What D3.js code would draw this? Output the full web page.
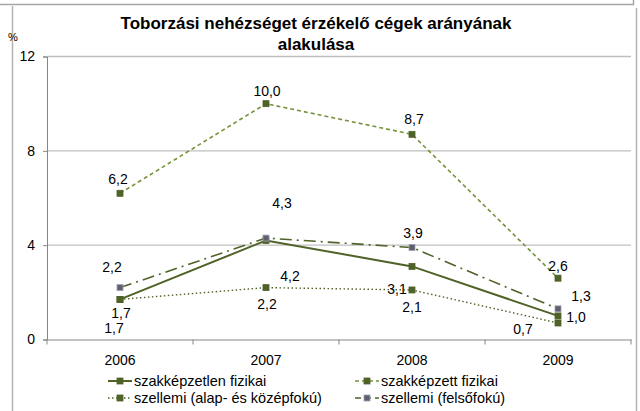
<!DOCTYPE html>
<html>
<head>
<meta charset="utf-8">
<script src="https://cdn.jsdelivr.net/npm/d3@7"></script>
<style>
  body { margin: 0; background: #fff; }
  text { font-family: "Liberation Sans", Arial, sans-serif; fill: #000; }
</style>
</head>
<body>
<div class="chart"></div>
<script>
// data
var years = ["2006", "2007", "2008", "2009"];
var seriesNames = ["szakképzetlen fizikai", "szakképzett fizikai", "szellemi (alap- és középfokú)", "szellemi (felsőfokú)"];
var szakkepzetlen = [1.7, 4.2, 3.1, 1.0];
var szakkepzett = [6.2, 10.0, 8.7, 2.6];
var szellemiAlap = [1.7, 2.2, 2.1, 0.7];
var szellemiFelso = [2.2, 4.3, 3.9, 1.3];
var yTicks = [0, 4, 8, 12];

var svgWidth = 640, svgHeight = 411;
var margin = {top: 56.5, right: 9, bottom: 71.5, left: 47};
var width = svgWidth - margin.left - margin.right;
var height = svgHeight - margin.top - margin.bottom;

var svg = d3.select(".chart").append("svg")
  .attr("width", svgWidth)
  .attr("height", svgHeight);

// outer frame bits
svg.append("path").attr("d", "M0,4.5H633.5V0").attr("fill", "none").attr("stroke", "#a6a6a6").attr("stroke-width", 1.5);
svg.append("path").attr("d", "M12.5,6V411M636.5,8V411").attr("fill", "none").attr("stroke", "#b3b3b3").attr("stroke-width", 1.5);

var chartGroup = svg.append("g").attr("transform", `translate(${margin.left}, ${margin.top})`);

var x = d3.scaleBand().domain(years).range([0, width]);
var y = d3.scaleLinear().domain([0, 12]).range([height, 0]);

// gridlines
chartGroup.selectAll(".grid").data(yTicks.filter(d => d > 0)).enter()
  .append("line")
  .attr("x1", 0).attr("x2", width)
  .attr("y1", d => y(d)).attr("y2", d => y(d))
  .attr("stroke", "#bfbfbf").attr("stroke-width", 1.3);

// y axis
var leftAxis = d3.axisLeft(y).tickValues(yTicks).tickSize(4).tickPadding(8).tickFormat(d3.format("d"));
var ya = chartGroup.append("g").call(leftAxis);
ya.select(".domain").attr("stroke", "#868686");
ya.selectAll(".tick line").attr("stroke", "#868686");
ya.selectAll("text").attr("font-size", "14px");

// x axis
var xa = chartGroup.append("g").attr("transform", `translate(0, ${height})`)
  .call(d3.axisBottom(x).tickSize(0).tickPadding(16));
xa.select(".domain").attr("stroke", "#868686");
xa.selectAll("text").attr("font-size", "14px");
chartGroup.selectAll(".xtick").data(d3.range(years.length + 1)).enter()
  .append("line")
  .attr("x1", i => i * x.bandwidth()).attr("x2", i => i * x.bandwidth())
  .attr("y1", height).attr("y2", height + 5)
  .attr("stroke", "#868686");

// series styles
var styles = [
  {values: szakkepzetlen, color: "#4f6228", width: 2, dash: null, mark: "#4f6228", markStroke: "#4f6228",
   off: [[1, 14], [24, 36], [-15, 23], [18, 1]]},
  {values: szakkepzett, color: "#76923c", width: 1.6, dash: "4,3", mark: "#4f6228", markStroke: "#4f6228",
   off: [[-2, -14], [1, -13], [2, -15], [0, -12]]},
  {values: szellemiAlap, color: "#4f6228", width: 1.4, dash: "1.5,2.5", mark: "#4f6228", markStroke: "#4f6228",
   off: [[-6, 29], [1, 16], [0, 17], [-35, 6]]},
  {values: szellemiFelso, color: "#4f6228", width: 1.6, dash: "12,5,2,5", mark: "#5f5f70", markStroke: "#a0a0b8",
   off: [[-8, -21], [16, -35], [1, -14], [23, -13]]}
];

var line = d3.line()
  .x((d, i) => x(years[i]) + x.bandwidth() / 2)
  .y(d => y(d));

styles.forEach(function(s) {
  chartGroup.append("path")
    .datum(s.values)
    .attr("d", line)
    .attr("fill", "none")
    .attr("stroke", s.color)
    .attr("stroke-width", s.width)
    .attr("stroke-dasharray", s.dash);
});

styles.forEach(function(s) {
  chartGroup.selectAll(null).data(s.values).enter()
    .append("rect")
    .attr("x", (d, i) => x(years[i]) + x.bandwidth() / 2 - 3)
    .attr("y", d => y(d) - 3)
    .attr("width", 6).attr("height", 6)
    .attr("fill", s.mark)
    .attr("stroke", s.markStroke).attr("stroke-width", 0.8);
});

var fmt = d => d.toFixed(1).replace(".", ",");
styles.forEach(function(s) {
  chartGroup.selectAll(null).data(s.values).enter()
    .append("text")
    .attr("x", (d, i) => x(years[i]) + x.bandwidth() / 2 + s.off[i][0])
    .attr("y", (d, i) => y(d) + s.off[i][1])
    .attr("dy", "0.35em")
    .attr("text-anchor", "middle")
    .attr("font-size", "14px")
    .text(fmt);
});

// title
svg.append("text").attr("x", 316).attr("y", 29).attr("text-anchor", "middle")
  .attr("font-size", "17px").attr("font-weight", "bold")
  .text("Toborzási nehézséget érzékelő cégek arányának");
svg.append("text").attr("x", 316).attr("y", 50).attr("text-anchor", "middle")
  .attr("font-size", "17px").attr("font-weight", "bold")
  .text("alakulása");
svg.append("text").attr("x", 8).attr("y", 41).attr("font-size", "11px").text("%");

// legend
var legendPos = [[108, 381], [355, 381], [108, 398], [355, 398]];
styles.forEach(function(s, i) {
  var g = svg.append("g").attr("transform", `translate(${legendPos[i][0]}, ${legendPos[i][1]})`);
  g.append("line").attr("x1", 0).attr("x2", 24).attr("y1", 0).attr("y2", 0)
    .attr("stroke", s.color).attr("stroke-width", s.width)
    .attr("stroke-dasharray", s.dash ? (i === 3 ? "6,4" : s.dash) : null);
  g.append("rect").attr("x", 9).attr("y", -3).attr("width", 6).attr("height", 6)
    .attr("fill", s.mark).attr("stroke", s.markStroke).attr("stroke-width", 0.8);
  g.append("text").attr("x", 26).attr("y", 0).attr("dy", "0.35em")
    .attr("font-size", "14.5px").text(seriesNames[i]);
});
</script>
</body>
</html>
